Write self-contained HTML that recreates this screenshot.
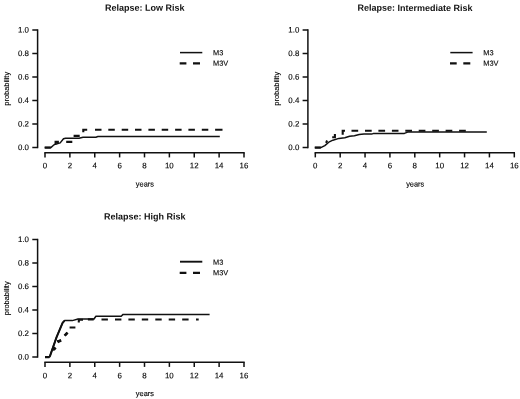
<!DOCTYPE html>
<html><head><meta charset="utf-8"><title>Relapse</title>
<style>
html,body{margin:0;padding:0;background:#fff;}
svg{display:block;}
text{font-family:"Liberation Sans",sans-serif;fill:#1a1a1a;}
.t{font-size:9px;font-weight:bold;fill:#111;}
.l{font-size:7.9px;fill:#000;stroke:#000;stroke-width:0.12;}
.g{font-size:7.4px;}
.ax{stroke:#111;stroke-width:1.5;fill:none;}
.so{stroke:#111;stroke-width:1.5;fill:none;stroke-linejoin:round;}
.da{stroke:#111;stroke-width:2.1;fill:none;}
</style></head><body>
<svg style="filter:grayscale(1)" width="520" height="399" viewBox="0 0 520 399">
<rect width="520" height="399" fill="#fff"/>
<g transform="translate(0,0)">
<text class="t" x="144.8" y="10.8" transform="rotate(0.05 144.8 10.8)" text-anchor="middle">Relapse: Low Risk</text>
<path class="ax" d="M37.6,29.3V148.2" />
<path class="ax" d="M32.3,30.00H37.6" />
<text class="l" x="29" y="32.60" transform="rotate(0.05 29 32.60)" text-anchor="end">1.0</text>
<path class="ax" d="M32.3,53.50H37.6" />
<text class="l" x="29" y="56.10" transform="rotate(0.05 29 56.10)" text-anchor="end">0.8</text>
<path class="ax" d="M32.3,77.00H37.6" />
<text class="l" x="29" y="79.60" transform="rotate(0.05 29 79.60)" text-anchor="end">0.6</text>
<path class="ax" d="M32.3,100.50H37.6" />
<text class="l" x="29" y="103.10" transform="rotate(0.05 29 103.10)" text-anchor="end">0.4</text>
<path class="ax" d="M32.3,124.00H37.6" />
<text class="l" x="29" y="126.60" transform="rotate(0.05 29 126.60)" text-anchor="end">0.2</text>
<path class="ax" d="M32.3,147.50H37.6" />
<text class="l" x="29" y="150.10" transform="rotate(0.05 29 150.10)" text-anchor="end">0.0</text>
<path class="ax" d="M44.3,152.7H244.7" />
<path class="ax" d="M45.00,152.7V157.4" />
<text class="l" x="45.00" y="168.3" transform="rotate(0.05 45.00 168.3)" text-anchor="middle">0</text>
<path class="ax" d="M69.88,152.7V157.4" />
<text class="l" x="69.88" y="168.3" transform="rotate(0.05 69.88 168.3)" text-anchor="middle">2</text>
<path class="ax" d="M94.75,152.7V157.4" />
<text class="l" x="94.75" y="168.3" transform="rotate(0.05 94.75 168.3)" text-anchor="middle">4</text>
<path class="ax" d="M119.62,152.7V157.4" />
<text class="l" x="119.62" y="168.3" transform="rotate(0.05 119.62 168.3)" text-anchor="middle">6</text>
<path class="ax" d="M144.50,152.7V157.4" />
<text class="l" x="144.50" y="168.3" transform="rotate(0.05 144.50 168.3)" text-anchor="middle">8</text>
<path class="ax" d="M169.38,152.7V157.4" />
<text class="l" x="169.38" y="168.3" transform="rotate(0.05 169.38 168.3)" text-anchor="middle">10</text>
<path class="ax" d="M194.25,152.7V157.4" />
<text class="l" x="194.25" y="168.3" transform="rotate(0.05 194.25 168.3)" text-anchor="middle">12</text>
<path class="ax" d="M219.12,152.7V157.4" />
<text class="l" x="219.12" y="168.3" transform="rotate(0.05 219.12 168.3)" text-anchor="middle">14</text>
<path class="ax" d="M244.00,152.7V157.4" />
<text class="l" x="244.00" y="168.3" transform="rotate(0.05 244.00 168.3)" text-anchor="middle">16</text>
<text class="l g" x="144.9" y="186.4" transform="rotate(0.05 144.9 186.4)" text-anchor="middle">years</text>
<text class="l" transform="translate(8.5,88.8) rotate(-90) scale(0.94,1)" text-anchor="middle">probability</text>
<path class="so" style="stroke-width:1.5" d="M180,52.6H202.3" />
<path class="da" d="M179.7,63.4H186.4M193,63.4H200" />
<text class="l g" x="213" y="55.2" transform="rotate(0.05 213 55.2)">M3</text>
<text class="l g" x="213" y="65.8" transform="rotate(0.05 213 65.8)">M3V</text>
<path class="so" d="M44.7,147.6H50.8L53.5,145.2L55.5,144.2L60.2,142.9L63.5,138.8L65.6,138.2H79L83,137.2H95.9L97.9,136.55H219.8" />
<path class="da" d="M44.7,147.6H50.8M55.6,144.2V141.9H58.9M66.2,141.9H72.3M73.6,135.9H79.7M83.3,132.3V129.7H87.2M95.0,129.7H101.5M108.3,129.7H114.8M121.7,129.7H128.2M135.0,129.7H141.5M148.4,129.7H154.9M161.7,129.7H168.2M175.1,129.7H181.6M188.4,129.7H194.9M201.8,129.7H208.3M215.1,129.7H222.5" />

</g>
<g transform="translate(270.3,0)">
<text class="t" x="144.8" y="10.9" transform="rotate(0.05 144.8 10.9)" text-anchor="middle">Relapse: Intermediate Risk</text>
<path class="ax" d="M37.6,29.3V148.2" />
<path class="ax" d="M32.3,30.00H37.6" />
<text class="l" x="29" y="32.60" transform="rotate(0.05 29 32.60)" text-anchor="end">1.0</text>
<path class="ax" d="M32.3,53.50H37.6" />
<text class="l" x="29" y="56.10" transform="rotate(0.05 29 56.10)" text-anchor="end">0.8</text>
<path class="ax" d="M32.3,77.00H37.6" />
<text class="l" x="29" y="79.60" transform="rotate(0.05 29 79.60)" text-anchor="end">0.6</text>
<path class="ax" d="M32.3,100.50H37.6" />
<text class="l" x="29" y="103.10" transform="rotate(0.05 29 103.10)" text-anchor="end">0.4</text>
<path class="ax" d="M32.3,124.00H37.6" />
<text class="l" x="29" y="126.60" transform="rotate(0.05 29 126.60)" text-anchor="end">0.2</text>
<path class="ax" d="M32.3,147.50H37.6" />
<text class="l" x="29" y="150.10" transform="rotate(0.05 29 150.10)" text-anchor="end">0.0</text>
<path class="ax" d="M44.3,152.7H244.7" />
<path class="ax" d="M45.00,152.7V157.4" />
<text class="l" x="45.00" y="168.3" transform="rotate(0.05 45.00 168.3)" text-anchor="middle">0</text>
<path class="ax" d="M69.88,152.7V157.4" />
<text class="l" x="69.88" y="168.3" transform="rotate(0.05 69.88 168.3)" text-anchor="middle">2</text>
<path class="ax" d="M94.75,152.7V157.4" />
<text class="l" x="94.75" y="168.3" transform="rotate(0.05 94.75 168.3)" text-anchor="middle">4</text>
<path class="ax" d="M119.62,152.7V157.4" />
<text class="l" x="119.62" y="168.3" transform="rotate(0.05 119.62 168.3)" text-anchor="middle">6</text>
<path class="ax" d="M144.50,152.7V157.4" />
<text class="l" x="144.50" y="168.3" transform="rotate(0.05 144.50 168.3)" text-anchor="middle">8</text>
<path class="ax" d="M169.38,152.7V157.4" />
<text class="l" x="169.38" y="168.3" transform="rotate(0.05 169.38 168.3)" text-anchor="middle">10</text>
<path class="ax" d="M194.25,152.7V157.4" />
<text class="l" x="194.25" y="168.3" transform="rotate(0.05 194.25 168.3)" text-anchor="middle">12</text>
<path class="ax" d="M219.12,152.7V157.4" />
<text class="l" x="219.12" y="168.3" transform="rotate(0.05 219.12 168.3)" text-anchor="middle">14</text>
<path class="ax" d="M244.00,152.7V157.4" />
<text class="l" x="244.00" y="168.3" transform="rotate(0.05 244.00 168.3)" text-anchor="middle">16</text>
<text class="l g" x="144.9" y="186.4" transform="rotate(0.05 144.9 186.4)" text-anchor="middle">years</text>
<text class="l" transform="translate(8.5,88.8) rotate(-90) scale(0.94,1)" text-anchor="middle">probability</text>
<path class="so" style="stroke-width:1.5" d="M180,52.6H202.3" />
<path class="da" d="M179.7,63.4H186.4M193,63.4H200" />
<text class="l g" x="213" y="55.2" transform="rotate(0.05 213 55.2)">M3</text>
<text class="l g" x="213" y="65.8" transform="rotate(0.05 213 65.8)">M3V</text>
<path class="so" d="M44.5,147.6H50.5L54.5,145.6L58.5,142.2L62.6,140.2L68.6,138.4L74.5,137.8L79.3,136.3L84.1,135.7L88.9,134.6L93.7,134.1H101.4L103.4,133.4H134.1L138,131.9H216.5" />
<path class="da" d="M44.5,147.6H50.5M55.8,142.9L56.8,140.5M61.9,137.3H64.6V134.1M72.4,134.8V130.7H74.7M81.2,130.7H87.9M94.7,130.7H101.4M108.1,130.7H114.8M121.6,130.7H128.2M135.0,130.7H141.7M148.4,130.7H155.1M161.9,130.7H168.6M175.3,130.7H182.0M188.8,130.7H195.5" />

</g>
<g transform="translate(0,209.5)">
<text class="t" x="144.8" y="10.0" transform="rotate(0.05 144.8 10.0)" text-anchor="middle">Relapse: High Risk</text>
<path class="ax" d="M37.6,29.3V148.2" />
<path class="ax" d="M32.3,30.00H37.6" />
<text class="l" x="29" y="32.60" transform="rotate(0.05 29 32.60)" text-anchor="end">1.0</text>
<path class="ax" d="M32.3,53.50H37.6" />
<text class="l" x="29" y="56.10" transform="rotate(0.05 29 56.10)" text-anchor="end">0.8</text>
<path class="ax" d="M32.3,77.00H37.6" />
<text class="l" x="29" y="79.60" transform="rotate(0.05 29 79.60)" text-anchor="end">0.6</text>
<path class="ax" d="M32.3,100.50H37.6" />
<text class="l" x="29" y="103.10" transform="rotate(0.05 29 103.10)" text-anchor="end">0.4</text>
<path class="ax" d="M32.3,124.00H37.6" />
<text class="l" x="29" y="126.60" transform="rotate(0.05 29 126.60)" text-anchor="end">0.2</text>
<path class="ax" d="M32.3,147.50H37.6" />
<text class="l" x="29" y="150.10" transform="rotate(0.05 29 150.10)" text-anchor="end">0.0</text>
<path class="ax" d="M44.3,152.7H244.7" />
<path class="ax" d="M45.00,152.7V157.4" />
<text class="l" x="45.00" y="168.8" transform="rotate(0.05 45.00 168.8)" text-anchor="middle">0</text>
<path class="ax" d="M69.88,152.7V157.4" />
<text class="l" x="69.88" y="168.8" transform="rotate(0.05 69.88 168.8)" text-anchor="middle">2</text>
<path class="ax" d="M94.75,152.7V157.4" />
<text class="l" x="94.75" y="168.8" transform="rotate(0.05 94.75 168.8)" text-anchor="middle">4</text>
<path class="ax" d="M119.62,152.7V157.4" />
<text class="l" x="119.62" y="168.8" transform="rotate(0.05 119.62 168.8)" text-anchor="middle">6</text>
<path class="ax" d="M144.50,152.7V157.4" />
<text class="l" x="144.50" y="168.8" transform="rotate(0.05 144.50 168.8)" text-anchor="middle">8</text>
<path class="ax" d="M169.38,152.7V157.4" />
<text class="l" x="169.38" y="168.8" transform="rotate(0.05 169.38 168.8)" text-anchor="middle">10</text>
<path class="ax" d="M194.25,152.7V157.4" />
<text class="l" x="194.25" y="168.8" transform="rotate(0.05 194.25 168.8)" text-anchor="middle">12</text>
<path class="ax" d="M219.12,152.7V157.4" />
<text class="l" x="219.12" y="168.8" transform="rotate(0.05 219.12 168.8)" text-anchor="middle">14</text>
<path class="ax" d="M244.00,152.7V157.4" />
<text class="l" x="244.00" y="168.8" transform="rotate(0.05 244.00 168.8)" text-anchor="middle">16</text>
<text class="l g" x="144.9" y="186.4" transform="rotate(0.05 144.9 186.4)" text-anchor="middle">years</text>
<text class="l" transform="translate(8.5,88.8) rotate(-90) scale(0.94,1)" text-anchor="middle">probability</text>
<path class="so" style="stroke-width:1.9" d="M180,52.2H202.3" />
<path class="da" d="M179.7,63.4H186.4M193,63.4H200" />
<text class="l g" x="213" y="55.2" transform="rotate(0.05 213 55.2)">M3</text>
<text class="l g" x="213" y="65.8" transform="rotate(0.05 213 65.8)">M3V</text>
<path class="so" d="M45,147.60000000000002H49.6L56.5,127.80000000000001L62.6,113.30000000000001L64.6,111.10000000000002H72.3L78,109.5H94L95.9,106.80000000000001H121.2L123.1,104.89999999999998H209.6" />
<path class="da" d="M45,147.60000000000002H49.4M52.6,140.7L55,137.89999999999998M57,131.8L61,130.89999999999998M64.8,126.10000000000002L67.3,123.19999999999999M69.6,118.0H75.4M78.8,112.89999999999998V110.30000000000001H83M87.9,109.89999999999998H93.7M101.5,110.0H107.9M115.0,110.0H121.4M128.4,110.0H134.8M141.8,110.0H148.2M155.3,110.0H161.7M168.7,110.0H175.1M182.2,110.0H188.6M196,110.0H198.7" />
<path class="so" style="stroke-width:2" d="M49.8,147.10000000000002L56.5,127.80000000000001L62.6,113.30000000000001L64.4,111.30000000000001" /><path class="da" style="stroke-width:2.7" d="M53.6,140.3L55.6,138.10000000000002M57.6,132.39999999999998L61.2,130.8M64.6,126.10000000000002L67.6,123.10000000000002" />
</g>
</svg>
</body></html>
